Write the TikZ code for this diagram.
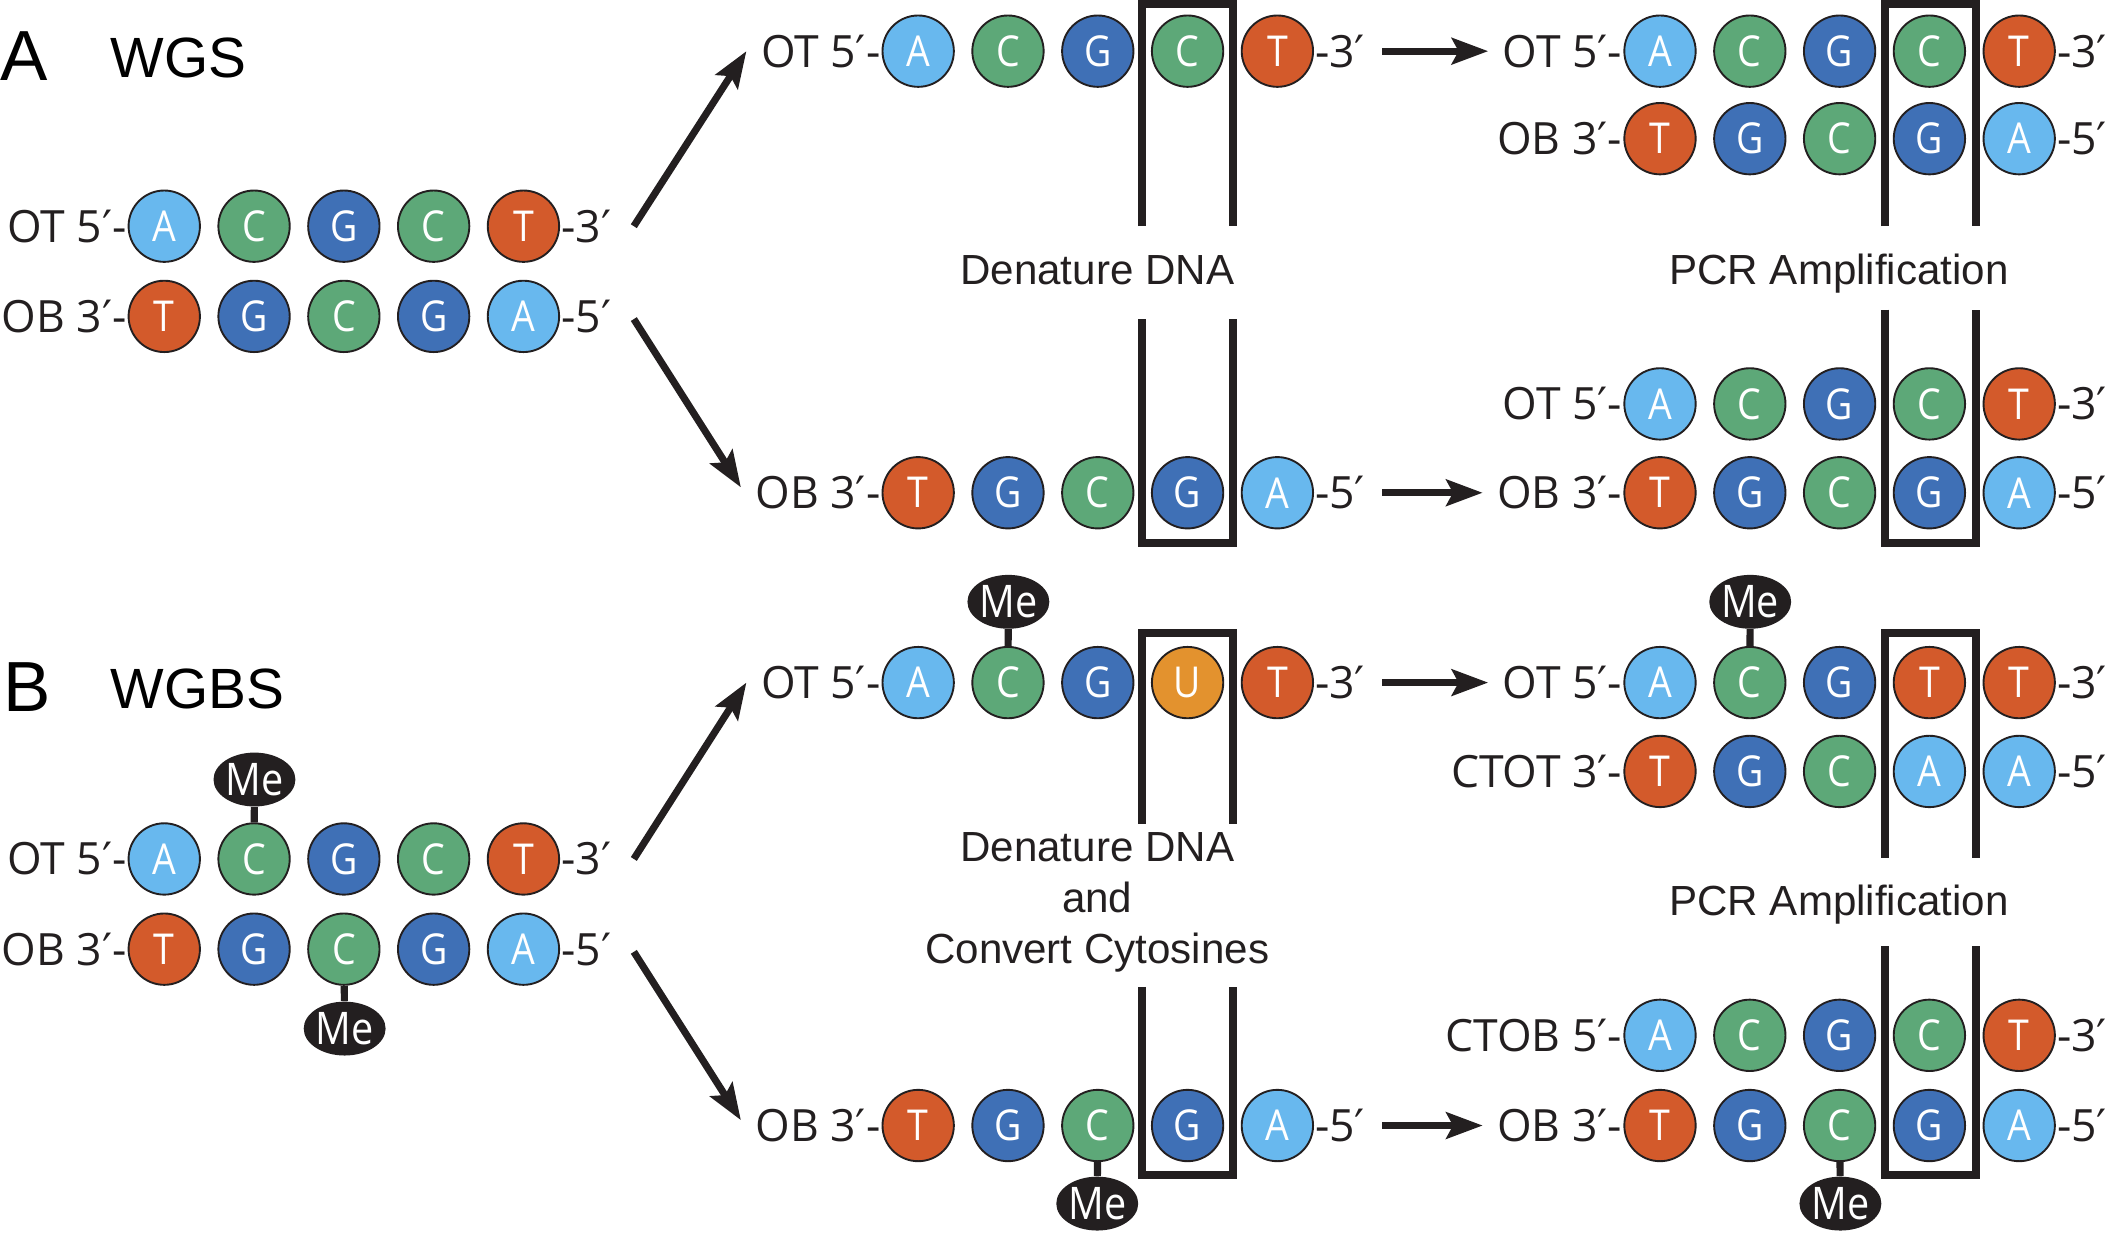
\documentclass[tikz,border=0pt]{standalone}
\usepackage{fontspec}
\setmainfont{Liberation Sans}
\newfontfamily\basefont{Open Sans}
\newfontfamily\narrowfont{Open Sans}[FakeStretch=0.88]
\newfontfamily\primefont{DejaVu Sans}
\newcommand{\pr}{{\primefont ′}}
\usetikzlibrary{arrows.meta,shapes.geometric,calc}
\definecolor{ink}{HTML}{231F20}
\definecolor{baseA}{HTML}{68B8EE}
\definecolor{baseC}{HTML}{5DA878}
\definecolor{baseG}{HTML}{3F70B6}
\definecolor{baseT}{HTML}{D35A2B}
\definecolor{baseU}{HTML}{E3922E}
\tikzset{>={Stealth[length=5.4mm,width=3.9mm,inset=1mm]}}
\tikzset{
  nt/.style={circle,draw=ink,line width=0.8pt,fill=base#1,minimum size=10.6mm,
    inner sep=0pt,text=white,font=\narrowfont\fontsize{18}{18}\selectfont},
  endlab/.style={inner sep=0.3pt,text=ink,font=\basefont\fontsize{18.8}{20}\selectfont},
  me/.style={ellipse,fill=ink,minimum width=10.6mm,minimum height=8mm,inner sep=0pt,
    text=white,font=\narrowfont\fontsize{19}{19}\selectfont},
  stem/.style={line width=3pt,ink},
  flow/.style={line width=3pt,ink,->},
  frame/.style={line width=3.4pt,ink},
  caption/.style={text=ink,align=center,font=\fontsize{17.8}{21.6}\selectfont},
}
% one strand: name, x of first base, y, 5'/3' label, end label, bases
\newcommand{\dnastrand}[6]{%
  \foreach \b [count=\i] in {#6}
    \node[nt=\b] (#1\i) at ({#2+(\i-1)*66.7},#3) {\b};
  \node[endlab,anchor=east] (#1L) at (#11.west) {#4};
  \node[endlab,anchor=west] (#1R) at (#15.east) {#5};
}

\begin{document}
\begin{tikzpicture}[x=0.2mm,y=-0.2mm]
\useasboundingbox (0,0) rectangle (1568,917);

% A: WGS
\node[anchor=west,inner sep=0pt,font=\fontsize{30}{30}\selectfont] (pa) at (0,42) {A};
\node[anchor=west,inner sep=0pt,font=\fontsize{24}{24}\selectfont] (pat) at (82,43) {WGS};
\dnastrand{aot}{122}{168}{OT 5\pr-}{-3\pr}{A,C,G,C,T}
\dnastrand{aob}{122}{235}{OB 3\pr-}{-5\pr}{T,G,C,G,A}
\dnastrand{adt}{682}{38}{OT 5\pr-}{-3\pr}{A,C,G,C,T}
\dnastrand{adb}{682}{366}{OB 3\pr-}{-5\pr}{T,G,C,G,A}
\dnastrand{apt}{1233}{38}{OT 5\pr-}{-3\pr}{A,C,G,C,T}
\dnastrand{apb}{1233}{103}{OB 3\pr-}{-5\pr}{T,G,C,G,A}
\dnastrand{aqt}{1233}{300}{OT 5\pr-}{-3\pr}{A,C,G,C,T}
\dnastrand{aqb}{1233}{366}{OB 3\pr-}{-5\pr}{T,G,C,G,A}
\node[caption] (aden) at (815,201) {Denature DNA};
\node[caption] (apcr) at (1366,203) {PCR Amplification};
\draw[frame] (848,168) |- (916,3) -- (916,168);
\draw[frame] (848,237) |- (916,403) -- (916,237);
\draw[frame] (1400,168) |- (1468,3) -- (1468,168);
\draw[frame] (1400,230) |- (1468,403) -- (1468,230);
\draw[flow] ($(aotR.east)+(16,0)$) -- ($(adtL.west)+(-10,0)$);
\draw[flow] ($(aobR.east)+(16,2)$) -- ($(adbL.west)+(-10,-4)$);
\draw[flow] ($(adtR.east)+(12,0)$) -- ($(aptL.west)+(-10,0)$);
\draw[flow] ($(adbR.east)+(12,0)$) -- ($(aqbL.west)+(-10,0)$);

% B: WGBS
\node[anchor=west,inner sep=0pt,font=\fontsize{30}{30}\selectfont] (pb) at (2,510) {B};
\node[anchor=west,inner sep=0pt,font=\fontsize{24}{24}\selectfont] (pbt) at (82,512) {WGBS};
\dnastrand{bot}{122}{638}{OT 5\pr-}{-3\pr}{A,C,G,C,T}
\dnastrand{bob}{122}{705}{OB 3\pr-}{-5\pr}{T,G,C,G,A}
\dnastrand{bdt}{682}{507}{OT 5\pr-}{-3\pr}{A,C,G,U,T}
\dnastrand{bdb}{682}{836}{OB 3\pr-}{-5\pr}{T,G,C,G,A}
\dnastrand{bpt}{1233}{507}{OT 5\pr-}{-3\pr}{A,C,G,T,T}
\dnastrand{bpb}{1233}{573}{CTOT 3\pr-}{-5\pr}{T,G,C,A,A}
\dnastrand{bqt}{1233}{769}{CTOB 5\pr-}{-3\pr}{A,C,G,C,T}
\dnastrand{bqb}{1233}{836}{OB 3\pr-}{-5\pr}{T,G,C,G,A}
\node[me] (me1) at (189,579) {Me};
\node[me] (me2) at (256,764) {Me};
\node[me] (me3) at (749,447) {Me};
\node[me] (me4) at (815,894) {Me};
\node[me] (me5) at (1300,447) {Me};
\node[me] (me6) at (1367,894) {Me};
\draw[stem] (me1) -- (bot2);
\draw[stem] (me2) -- (bob3);
\draw[stem] (me3) -- (bdt2);
\draw[stem] (me4) -- (bdb3);
\draw[stem] (me5) -- (bpt2);
\draw[stem] (me6) -- (bqb3);
\node[caption] (bden) at (815,670) {Denature DNA\\and\\Convert Cytosines};
\node[caption] (bpcr) at (1366,672) {PCR Amplification};
\draw[frame] (848,612) |- (916,470) -- (916,612);
\draw[frame] (848,733) |- (916,873) -- (916,733);
\draw[frame] (1400,637) |- (1468,470) -- (1468,637);
\draw[frame] (1400,703) |- (1468,873) -- (1468,703);
\draw[flow] ($(botR.east)+(16,0)$) -- ($(bdtL.west)+(-10,0)$);
\draw[flow] ($(bobR.east)+(16,2)$) -- ($(bdbL.west)+(-10,-4)$);
\draw[flow] ($(bdtR.east)+(12,0)$) -- ($(bptL.west)+(-10,0)$);
\draw[flow] ($(bdbR.east)+(12,0)$) -- ($(bqbL.west)+(-10,0)$);
\end{tikzpicture}
\end{document}
